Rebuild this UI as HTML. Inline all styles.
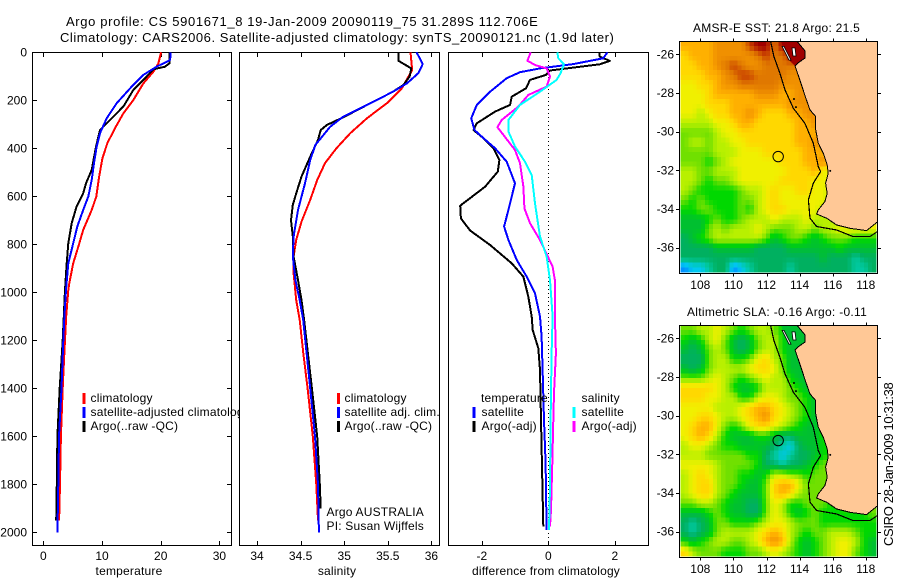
<!DOCTYPE html>
<html lang="en">
<head>
<meta charset="utf-8">
<title>Argo profile</title>
<style>
html,body{margin:0;padding:0;background:#fff;}
svg{display:block;font-family:"Liberation Sans",sans-serif;font-size:12px;fill:#000;letter-spacing:0.2px;}
.ctr{text-anchor:middle;}
.rgt{text-anchor:end;}
.num{letter-spacing:0;}
</style>
</head>
<body>
<svg id="chart" xmlns="http://www.w3.org/2000/svg" width="900" height="580" viewBox="0 0 900 580">
<rect x="0" y="0" width="900" height="580" fill="#fff"/>
<text x="66" y="26" font-size="13" textLength="472" lengthAdjust="spacing">Argo profile: CS 5901671_8 19-Jan-2009 20090119_75 31.289S 112.706E</text>
<text x="60" y="42" font-size="13" textLength="554" lengthAdjust="spacing">Climatology: CARS2006. Satellite-adjusted climatology: synTS_20090121.nc (1.9d later)</text>
<text class="ctr" x="129" y="575">temperature</text>
<text class="ctr" x="337" y="575">salinity</text>
<text x="472" y="575" textLength="148" lengthAdjust="spacing">difference from climatology</text>
<text x="693" y="32" textLength="167" lengthAdjust="spacing">AMSR-E SST: 21.8 Argo: 21.5</text>
<text x="687" y="316" textLength="180" lengthAdjust="spacing">Altimetric SLA: -0.16 Argo: -0.11</text>
<text transform="translate(893,546) rotate(-90)" font-size="13" textLength="164" lengthAdjust="spacing">CSIRO 28-Jan-2009 10:31:38</text>
</svg>
<script>
/* ---------- axis tick values ---------- */
const depthTicks = [0,200,400,600,800,1000,1200,1400,1600,1800,2000];
const tempTicks = [0,10,20,30];
const salTicks = [34,34.5,35,35.5,36];
const diffTicks = [-2,0,2];
const lonTicks = [108,110,112,114,116,118];
const latTicks = [-26,-28,-30,-32,-34,-36];

/* ---------- temperature profiles ---------- */
const tempClimDepth = [0,46,81,129,199,254,317,379,442,519,601,657,740,810,879,962,990,1100,1200,1300,1400,1600,1800,1950];
const tempClimValue = [20.06,19.6,18.75,17.05,15.34,13.64,12.2,10.9,10.06,9.5,9.03,8.24,6.8,5.97,5.1,4.43,4.26,3.9,3.7,3.5,3.3,3.0,2.85,2.7];
const tempSatDepth = [0,32,60,94,143,212,275,337,392,462,532,601,657,726,796,879,990,1100,1200,1400,1600,1800,2000];
const tempSatValue = [21.7,21.6,19.3,17.05,15.06,12.5,10.8,9.66,9.09,8.64,8.24,7.67,6.8,5.8,5.1,4.26,3.86,3.6,3.4,3.1,2.67,2.55,2.4];
const tempArgoDepth = [0,46,60,71,108,157,226,282,324,393,490,546,587,642,712,796,879,990,1100,1200,1400,1600,1800,1950];
const tempArgoValue = [21.5,21.5,20.74,18.75,17.33,15.34,13.64,11.36,9.66,8.98,8.24,7.27,6.8,5.68,4.83,4.26,3.98,3.69,3.5,3.3,2.8,2.4,2.3,2.2];

/* ---------- salinity profiles ---------- */
const salClimDepth = [0,74,150,212,275,337,400,462,532,615,706,782,851,921,1032,1115,1250,1400,1600,1800,1950];
const salClimValue = [35.76,35.78,35.66,35.49,35.26,35.07,34.91,34.78,34.69,34.61,34.51,34.45,34.42,34.42,34.45,34.49,34.53,34.58,34.64,34.68,34.7];
const salSatDepth = [0,49,87,129,164,212,268,310,386,449,546,657,768,851,949,1032,1115,1400,1600,1800,2000];
const salSatValue = [35.83,35.9,35.85,35.72,35.56,35.3,34.99,34.84,34.67,34.61,34.55,34.47,34.42,34.41,34.44,34.49,34.53,34.61,34.665,34.7,34.71];
const salArgoDepth = [0,35,67,101,136,164,212,271,303,324,365,435,518,588,636,699,768,851,949,1032,1115,1400,1600,1800,1900];
const salArgoValue = [35.62,35.62,35.77,35.75,35.68,35.56,35.3,34.99,34.8,34.73,34.7,34.61,34.51,34.45,34.41,34.39,34.41,34.42,34.47,34.51,34.54,34.63,34.69,34.72,34.73];

/* ---------- differences from climatology ---------- */
const diffTempSatDepth = [0,25,49,67,83,108,164,219,275,324,358,400,456,546,657,726,782,865,935,1004,1101,1184,1323,1532,1712,1990];
const diffTempSatValue = [1.78,1.65,0.75,-0.25,-0.85,-1.25,-1.75,-2.15,-2.32,-2.22,-1.95,-1.6,-1.25,-1.0,-1.2,-1.33,-1.2,-0.95,-0.65,-0.4,-0.25,-0.2,-0.17,-0.13,-0.08,-0.05];
const diffTempArgoDepth = [0,18,36,50,76,94,115,150,185,219,247,296,324,358,400,449,497,560,639,692,743,803,879,935,1018,1101,1157,1233,1323,1532,1726,1976];
const diffTempArgoValue = [1.53,1.55,1.85,1.55,0.05,-0.07,-0.55,-0.67,-1.1,-1.15,-1.6,-2.15,-2.25,-1.95,-1.65,-1.47,-1.52,-1.9,-2.65,-2.63,-2.35,-1.75,-1.1,-0.75,-0.6,-0.5,-0.47,-0.3,-0.25,-0.22,-0.19,-0.15];
const diffSalSatDepth = [0,25,49,87,115,164,219,282,330,393,456,511,629,768,851,949,1101,1254,1532,1810,1990];
const diffSalSatValue = [0.27,0.3,0.47,0.37,0.25,-0.25,-0.85,-1.2,-1.2,-1.0,-0.7,-0.5,-0.4,-0.25,-0.05,0.05,0.13,0.1,0.07,0.05,0.02];
const diffSalArgoDepth = [0,35,53,67,101,143,178,226,282,312,344,407,462,560,650,712,782,893,949,1101,1254,1420,1532,1712,1907,1976];
const diffSalArgoValue = [-0.53,-0.63,-0.4,-0.05,0.05,-0.05,-0.6,-0.9,-1.4,-1.53,-1.35,-1.0,-0.85,-0.75,-0.72,-0.55,-0.25,0.13,0.2,0.2,0.23,0.17,0.15,0.12,0.08,0.05];

/* ---------- map colour levels and gridded fields (north to south, west to east) ---------- */
const levelColours = ['#0090ff','#00c8f0','#00c8a0','#00b060','#00c030','#00d800','#70e000','#b8f000','#f0f000','#ffd800','#ffb000','#f09000','#e07800','#c84000','#a00000'];
const sstLevels = [
[10,10,10,10,11,11,11,11,13,14,14,12,14,14,14,14,14,14,14,14,14,14,14,14],
[9,10,10,10,11,11,11,11,11,12,13,12,12,14,14,14,14,14,14,14,14,14,14,14],
[9,9,10,10,11,12,13,12,11,11,12,12,12,12,12,12,12,12,12,12,12,12,12,12],
[9,9,9,10,10,11,12,13,13,12,12,12,12,11,11,11,11,11,11,11,11,11,11,11],
[8,8,9,9,10,11,11,12,12,12,12,12,11,11,11,11,11,11,11,11,11,11,11,11],
[8,8,8,9,10,10,10,10,10,11,11,11,10,10,11,11,11,11,11,11,11,11,11,11],
[8,8,8,9,9,9,10,10,10,10,10,10,10,11,11,11,11,11,11,11,11,11,11,11],
[8,8,7,8,9,9,10,10,11,10,9,9,9,10,10,11,11,11,11,11,11,11,11,11],
[7,7,7,7,8,8,9,10,10,9,9,9,9,9,10,10,11,11,11,11,11,11,11,11],
[6,6,6,6,7,8,8,9,9,9,9,9,9,9,10,10,10,10,10,10,10,10,10,10],
[6,7,7,6,7,7,8,8,9,9,9,9,9,9,10,10,11,11,11,11,11,11,11,11],
[6,6,6,6,7,7,7,8,8,8,9,9,9,9,9,10,10,10,10,10,10,10,10,10],
[6,6,6,5,6,7,8,8,8,8,8,8,9,9,9,10,10,11,10,10,10,10,10,10],
[7,7,6,6,7,7,7,8,8,8,8,8,8,9,9,9,10,8,8,8,8,8,8,8],
[7,7,6,5,6,6,7,8,8,8,8,8,9,9,9,9,8,8,8,8,8,8,8,8],
[7,6,5,5,5,5,5,6,7,7,8,9,8,8,9,9,8,8,7,7,7,7,7,7],
[6,5,6,5,5,5,5,6,6,7,8,9,8,8,8,8,8,8,7,7,7,7,7,7],
[5,5,6,6,5,5,5,6,5,7,8,9,9,8,8,8,8,7,7,7,7,7,7,7],
[4,4,4,5,6,5,5,6,7,7,7,8,7,7,7,8,7,7,7,7,7,8,8,8],
[4,4,4,6,7,6,7,7,7,8,7,6,6,6,7,7,6,7,7,8,8,8,8,8],
[3,4,5,6,7,7,7,7,7,7,6,4,5,6,6,5,4,5,6,6,6,5,5,5],
[3,3,3,3,4,4,4,4,4,3,3,3,3,4,4,4,4,4,4,5,4,4,4,4],
[3,3,3,3,3,3,3,3,3,3,3,3,3,3,3,3,3,4,3,3,3,2,3,3],
[0,1,1,2,3,3,0,1,2,3,3,3,3,2,3,3,3,3,3,3,3,2,2,3]
];
const slaLevels = [
[6,6,7,7,8,7,6,5,6,7,7,6,5,4,4,4,4,4,4,4,4,4,4,4],
[5,4,5,7,8,6,4,3,4,6,7,7,5,4,4,4,4,4,4,4,4,4,4,4],
[4,3,4,6,7,6,4,3,4,6,7,7,5,4,4,4,4,4,4,4,4,4,4,4],
[3,3,3,6,7,7,5,5,6,8,9,7,6,4,4,4,4,4,4,4,4,4,4,4],
[4,3,4,6,7,7,7,7,8,9,9,8,6,4,4,4,4,4,4,4,4,4,4,4],
[6,6,6,7,8,7,6,5,6,7,8,7,7,5,4,4,4,4,4,4,4,4,4,4],
[9,9,9,9,8,7,5,4,4,5,7,7,7,6,5,4,4,4,4,4,4,4,4,4],
[9,9,9,8,8,7,7,5,5,7,8,8,7,6,6,5,4,4,4,4,4,4,4,4],
[8,8,8,8,7,7,7,8,9,10,10,9,8,7,6,5,4,4,4,4,4,4,4,4],
[8,8,9,9,8,7,7,8,9,10,11,9,8,7,6,5,4,4,4,4,4,4,4,4],
[8,9,10,10,8,6,5,6,8,9,9,8,7,6,5,4,4,5,5,5,5,5,5,5],
[8,9,10,9,7,5,4,4,4,5,5,4,3,3,4,4,4,5,5,5,5,5,5,5],
[7,8,8,7,6,5,5,4,4,4,4,3,2,1,3,4,4,5,5,5,5,5,5,5],
[7,7,7,6,6,6,6,6,5,5,3,2,1,2,3,3,4,5,5,5,5,5,5,5],
[8,8,8,8,7,6,6,6,6,5,3,3,2,3,3,4,5,6,6,6,6,6,6,6],
[7,8,9,8,7,6,6,5,5,4,5,7,7,6,6,5,6,6,6,6,6,6,6,6],
[7,8,9,9,7,6,6,5,4,4,6,9,10,10,8,6,6,6,6,6,6,6,6,6],
[7,8,9,9,7,6,5,4,4,4,6,9,10,9,7,6,6,6,6,6,6,6,6,6],
[6,6,7,7,6,5,4,4,3,3,6,8,7,5,5,6,6,6,5,5,6,6,6,6],
[4,4,4,5,6,5,4,4,3,3,6,8,7,5,4,5,6,5,5,5,5,5,5,6],
[3,2,3,4,6,6,5,5,5,6,7,8,8,7,6,6,6,5,5,5,5,5,5,5],
[3,2,3,4,6,7,7,7,7,8,9,10,9,7,6,5,6,6,7,7,7,6,5,5],
[5,4,5,6,7,7,6,6,7,8,10,11,10,7,5,4,5,6,7,8,8,7,5,4],
[9,7,6,6,6,5,5,5,6,6,7,8,7,6,5,4,5,6,7,8,8,6,5,4]
];

/* ---------- geography (degrees) ---------- */
const coastLon = [113.84,114.33,114.33,113.9,113.72,113.98,114.18,114.38,114.63,114.97,114.97,115.13,115.43,115.67,115.73,115.57,115.67,115.53,115.13,115.03,115.63,116.24,117.04,118.05,118.7];
const coastLat = [-25.33,-25.83,-26.19,-26.45,-26.6,-27.24,-27.76,-28.28,-28.88,-29.22,-29.91,-30.6,-31.12,-31.72,-32.16,-32.67,-33.19,-33.62,-34.05,-34.26,-34.48,-34.83,-35.0,-35.12,-34.67];
const isobathLon = [112.25,112.45,112.81,113.12,113.62,114.32,114.83,115.13,115.27,114.83,114.53,114.63,115.03,116.24,117.24,118.25,118.7];
const isobathLat = [-25.33,-26.12,-26.98,-27.84,-28.79,-29.57,-30.6,-31.81,-32.07,-32.67,-33.53,-34.48,-34.91,-35.09,-35.43,-35.43,-35.17];
const bayLon = [112.88,113.84,114.33,114.33,113.9,113.72,113.42,113.0];
const bayLat = [-25.33,-25.33,-25.83,-26.19,-26.45,-26.6,-26.35,-25.67];
const peninsulaLon = [112.94,113.06,113.48,113.36];
const peninsulaLat = [-25.59,-25.59,-26.3,-26.3];
const bayIslandLon = [113.54,113.72,113.78,113.6];
const bayIslandLat = [-25.67,-25.67,-26.09,-26.09];
const isletLon = [113.66,113.78,115.85];
const isletLat = [-28.31,-28.73,-32.03];
const floatLon = 112.706;
const floatLat = -31.289;

/* ---------- axis functions ---------- */
const yDepth = d => 52.3 + d * 0.24;
const xTemp = v => 43.3 + v * 5.87;
const xSal = v => 257 + (v - 34) * 87.2;
const xDiff = v => 548.3 + v * 33.25;
const xLon = lon => 700.3 + (lon - 108) * 16.55;
const yLatSst = lat => 54.3 + (-26 - lat) * 19.33;
const yLatSla = lat => 338.3 + (-26 - lat) * 19.33;

const NS = 'http://www.w3.org/2000/svg';
const svg = document.getElementById('chart');
function mk(tag, props, parent) {
  const el = document.createElementNS(NS, tag);
  for (const k in props) el.setAttribute(k, props[k]);
  (parent || svg).appendChild(el);
  return el;
}

function drawPanel(name, left, right, xFn, xTicks, showDepthLabels) {
  const g = mk('g', {});
  
  
  const frame = mk('rect', {x: left + 0.5, y: 52.5, width: right - left, height: 493, fill: '#fff', stroke: '#000', 'stroke-width': 1, 'shape-rendering': 'crispEdges'}, g);
  
  
  xTicks.forEach(v => {
    const x = Math.round(xFn(v)) + 0.5;
    const top = mk('line', {x1: x, x2: x, y1: 53, y2: 57, stroke: '#000', 'shape-rendering': 'crispEdges'}, g);
    
    
    const bottom = mk('line', {x1: x, x2: x, y1: 541, y2: 545, stroke: '#000', 'shape-rendering': 'crispEdges'}, g);
    
    
    const label = mk('text', {x: xFn(v), y: 560, class: 'ctr num'}, g);
    
    
    label.textContent = String(v);
  });
  if (showDepthLabels) {
    depthTicks.forEach(d => {
      const y = Math.round(yDepth(d)) + 0.5;
      const tl = mk('line', {x1: left, x2: left + 5, y1: y, y2: y, stroke: '#000', 'shape-rendering': 'crispEdges'}, g);
      
      
      const tr = mk('line', {x1: right - 4, x2: right, y1: y, y2: y, stroke: '#000', 'shape-rendering': 'crispEdges'}, g);
      
      
      const label = mk('text', {x: 27, y: yDepth(d) + 4, class: 'rgt num'}, g);
      
      
      label.textContent = String(d);
    });
  }
  return g;
}

function drawCurve(parent, name, xFn, values, depths, colour) {
  const pts = values.map((v, i) => xFn(v).toFixed(1) + ',' + yDepth(depths[i]).toFixed(1)).join(' ');
  const line = mk('polyline', {points: pts, fill: 'none', stroke: colour, 'stroke-width': 2, 'stroke-linejoin': 'round', 'shape-rendering': 'crispEdges'}, parent);
  
  
}

function drawLegendEntry(parent, name, barX, textX, y, text, colour) {
  if (colour) {
    const bar = mk('rect', {x: barX, y: y - 5, width: 3, height: 11, fill: colour, 'shape-rendering': 'crispEdges'}, parent);
    
    
  }
  const label = mk('text', {x: textX, y: y + 4}, parent);
  
  
  label.textContent = text;
}

/* temperature panel */
const g1 = drawPanel('temperature', 32, 231, xTemp, tempTicks, true);
drawCurve(g1, 'temperature-climatology-line', xTemp, tempClimValue, tempClimDepth, '#f00');
drawCurve(g1, 'temperature-argo-line', xTemp, tempArgoValue, tempArgoDepth, '#000');
drawCurve(g1, 'temperature-satellite-line', xTemp, tempSatValue, tempSatDepth, '#00f');
drawLegendEntry(g1, 'temperature-legend-climatology', 82.5, 90.5, 398, 'climatology', '#f00');
drawLegendEntry(g1, 'temperature-legend-satellite', 82.5, 90.5, 412, 'satellite-adjusted climatology', '#00f');
drawLegendEntry(g1, 'temperature-legend-argo', 82.5, 90.5, 426, 'Argo(..raw -QC)', '#000');

/* salinity panel */
const g2 = drawPanel('salinity', 239, 439, xSal, salTicks, false);
drawCurve(g2, 'salinity-climatology-line', xSal, salClimValue, salClimDepth, '#f00');
drawCurve(g2, 'salinity-argo-line', xSal, salArgoValue, salArgoDepth, '#000');
drawCurve(g2, 'salinity-satellite-line', xSal, salSatValue, salSatDepth, '#00f');
drawLegendEntry(g2, 'salinity-legend-climatology', 337, 344.5, 398, 'climatology', '#f00');
drawLegendEntry(g2, 'salinity-legend-satellite', 337, 344.5, 412, 'satellite adj. clim.', '#00f');
drawLegendEntry(g2, 'salinity-legend-argo', 337, 344.5, 426, 'Argo(..raw -QC)', '#000');
drawLegendEntry(g2, 'float-country-note', 0, 326.5, 512, 'Argo AUSTRALIA', null);
drawLegendEntry(g2, 'float-pi-note', 0, 326.5, 526, 'PI: Susan Wijffels', null);

/* difference panel */
const g3 = drawPanel('difference', 448, 648, xDiff, diffTicks, false);
const zero = mk('line', {x1: 548.5, x2: 548.5, y1: 53, y2: 545, stroke: '#000', 'stroke-dasharray': '1 3', 'shape-rendering': 'crispEdges'}, g3);


drawCurve(g3, 'difference-temperature-argo-line', xDiff, diffTempArgoValue, diffTempArgoDepth, '#000');
drawCurve(g3, 'difference-temperature-satellite-line', xDiff, diffTempSatValue, diffTempSatDepth, '#00f');
drawCurve(g3, 'difference-salinity-argo-line', xDiff, diffSalArgoValue, diffSalArgoDepth, '#f0f');
drawCurve(g3, 'difference-salinity-satellite-line', xDiff, diffSalSatValue, diffSalSatDepth, '#0ff');
drawLegendEntry(g3, 'difference-legend-temperature-heading', 0, 481, 398, 'temperature', null);
drawLegendEntry(g3, 'difference-legend-temperature-satellite', 472.5, 481.5, 412, 'satellite', '#00f');
drawLegendEntry(g3, 'difference-legend-temperature-argo', 472.5, 481.5, 426, 'Argo(-adj)', '#000');
drawLegendEntry(g3, 'difference-legend-salinity-heading', 0, 581.5, 398, 'salinity', null);
drawLegendEntry(g3, 'difference-legend-salinity-satellite', 572.5, 581.5, 412, 'satellite', '#0ff');
drawLegendEntry(g3, 'difference-legend-salinity-argo', 572.5, 581.5, 426, 'Argo(-adj)', '#f0f');

/* colour for a (possibly fractional) level */
function hexToRgb(h) {
  return [parseInt(h.slice(1, 3), 16), parseInt(h.slice(3, 5), 16), parseInt(h.slice(5, 7), 16)];
}
function levelColour(v) {
  const top = levelColours.length - 1;
  const c = Math.max(0, Math.min(top, v));
  const i = Math.min(top - 1, Math.floor(c));
  const f = c - i;
  const a = hexToRgb(levelColours[i]);
  const b = hexToRgb(levelColours[i + 1]);
  return 'rgb(' + a.map((p, k) => Math.round(p + (b[k] - p) * f)).join(',') + ')';
}
/* shade the field at twice its grid resolution, as the plotted image does */
function sampleField(levels, rowPos, colPos) {
  const nR = levels.length, nC = levels[0].length;
  const r = Math.max(0, Math.min(nR - 1, rowPos));
  const c = Math.max(0, Math.min(nC - 1, colPos));
  const r0 = Math.min(nR - 2, Math.floor(r)), c0 = Math.min(nC - 2, Math.floor(c));
  const fr = r - r0, fc = c - c0;
  return levels[r0][c0] * (1 - fr) * (1 - fc) + levels[r0][c0 + 1] * (1 - fr) * fc +
         levels[r0 + 1][c0] * fr * (1 - fc) + levels[r0 + 1][c0 + 1] * fr * fc;
}

/* maps */
function drawMap(name, levels, yLat, bayFill, lonLabelY) {
  const g = mk('g', {});
  
  
  const lonStart = 106.8, lonEnd = 118.62, latStart = -25.33, latEnd = -37.27;
  const nRows = levels.length * 2, nCols = levels[0].length * 2;
  for (let r = 0; r < nRows; r++) {
    for (let c = 0; c < nCols; c++) {
      const lev = sampleField(levels, (r + 0.5) / 2 - 0.5, (c + 0.5) / 2 - 0.5);
      const x0 = xLon(lonStart + (lonEnd - lonStart) * c / nCols);
      const x1 = xLon(lonStart + (lonEnd - lonStart) * (c + 1) / nCols);
      const y0 = yLat(latStart + (latEnd - latStart) * r / nRows);
      const y1 = yLat(latStart + (latEnd - latStart) * (r + 1) / nRows);
      const cell = mk('rect', {x: x0.toFixed(2), y: y0.toFixed(2), width: (x1 - x0 + 0.3).toFixed(2), height: (y1 - y0 + 0.3).toFixed(2), fill: levelColour(lev), 'shape-rendering': 'crispEdges'}, g);
      
      
    }
  }
  const toPts = (lons, lats) => lons.map((lon, i) => xLon(lon).toFixed(1) + ',' + yLat(lats[i]).toFixed(1)).join(' ');
  const bay = mk('polygon', {points: toPts(bayLon, bayLat), fill: bayFill}, g);
  
  
  const landPts = toPts(coastLon, coastLat) + ' ' + xLon(118.7).toFixed(1) + ',' + yLat(-25.33).toFixed(1);
  const land = mk('polygon', {points: landPts, fill: '#ffc896'}, g);
  
  
  const coast = mk('polyline', {points: toPts(coastLon, coastLat), fill: 'none', stroke: '#000', 'stroke-width': 1, 'shape-rendering': 'crispEdges'}, g);
  
  
  const pen = mk('polygon', {points: toPts(peninsulaLon, peninsulaLat), fill: '#fff', stroke: '#000', 'stroke-width': 0.8}, g);
  
  
  const isl = mk('polygon', {points: toPts(bayIslandLon, bayIslandLat), fill: '#fff', stroke: '#000', 'stroke-width': 0.8}, g);
  
  
  isletLon.forEach((lon, i) => {
    const dot = mk('circle', {cx: xLon(lon), cy: yLat(isletLat[i]), r: 1, fill: '#000'}, g);
    
    
  });
  const iso = mk('polyline', {points: toPts(isobathLon, isobathLat), fill: 'none', stroke: '#000', 'stroke-width': 1.2, 'shape-rendering': 'crispEdges'}, g);
  
  
  const marker = mk('circle', {cx: xLon(floatLon), cy: yLat(floatLat), r: 5.2, fill: 'none', stroke: '#000', 'stroke-width': 1}, g);
  
  
  const top = Math.round(yLat(-25.33)) + 0.5;
  const bottom = Math.round(yLat(-37.3)) + 0.5;
  const frame = mk('rect', {x: 679.5, y: top, width: 198, height: bottom - top, fill: 'none', stroke: '#000', 'shape-rendering': 'crispEdges'}, g);
  
  
  lonTicks.forEach(lon => {
    const x = Math.round(xLon(lon)) + 0.5;
    const t1 = mk('line', {x1: x, x2: x, y1: top - 3, y2: top, stroke: '#000', 'shape-rendering': 'crispEdges'}, g);
    
    
    const t2 = mk('line', {x1: x, x2: x, y1: bottom, y2: bottom + 3, stroke: '#000', 'shape-rendering': 'crispEdges'}, g);
    
    
    const label = mk('text', {x: xLon(lon), y: lonLabelY, class: 'ctr num'}, g);
    
    
    label.textContent = String(lon);
  });
  latTicks.forEach(lat => {
    const y = Math.round(yLat(lat)) + 0.5;
    const t1 = mk('line', {x1: 676, x2: 679.5, y1: y, y2: y, stroke: '#000', 'shape-rendering': 'crispEdges'}, g);
    
    
    const t2 = mk('line', {x1: 877.5, x2: 881, y1: y, y2: y, stroke: '#000', 'shape-rendering': 'crispEdges'}, g);
    
    
    const label = mk('text', {x: 674, y: yLat(lat) + 4, class: 'rgt num'}, g);
    
    
    label.textContent = String(lat);
  });
}
drawMap('sst', sstLevels, yLatSst, '#a00000', 289);
drawMap('sla', slaLevels, yLatSla, '#00c030', 573);
</script>
</body>
</html>
